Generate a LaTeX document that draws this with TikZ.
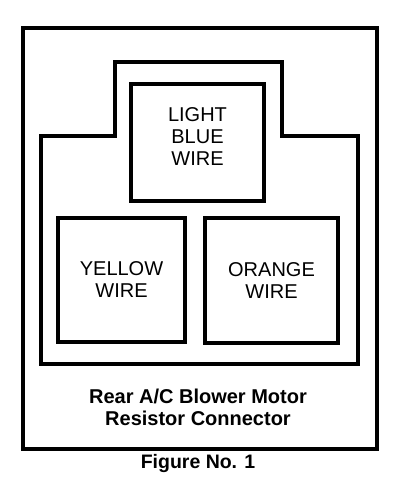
\documentclass[tikz,border=0pt]{standalone}
\usepackage{fontspec}
\setmainfont{Liberation Sans}
\usepackage{tikz}
\usetikzlibrary{positioning,calc}

\tikzset{
  pinbox/.style={draw,line width=4pt,minimum width=#1,inner sep=0pt,align=center,
    font=\fontsize{20}{22}\selectfont},
  caption/.style={align=center,font=\bfseries\fontsize{20}{21.5}\selectfont}
}

\begin{document}
\begin{tikzpicture}[x=1pt,y=-1pt]
                \useasboundingbox (0,0) rectangle (400,496);
                % Outer frame
                \draw[line width=4pt] (23,28) rectangle (377,449);
                
                % Connector housing
                \draw[line width=4pt] (41,364) -- (41,136) -- (115,136) -- (115,62)
                    -- (282,62) -- (282,136) -- (358,136) -- (358,364) -- cycle;
                
                % Terminals
                \node[pinbox=133pt,minimum height=117pt] (lightblue) at (197.5,142.5) {};
                \node (lightbluetxt) at ($(lightblue.center)+(0,-6)$)
                    [align=center,font=\fontsize{20}{22}\selectfont] {LIGHT\\BLUE\\WIRE};
                \node[pinbox=127pt,minimum height=124pt] (yellow) at (121.5,280) {YELLOW\\WIRE};
                \node[pinbox=133pt,minimum height=125pt] (orange) at (271.5,280.5) {ORANGE\\WIRE};
                
                % Labels
                \node[caption] (title) at (198,407.5) {Rear A/C Blower Motor\\Resistor Connector};
                \node[caption,font=\bfseries\fontsize{19.5}{21}\selectfont] (fig) at (198,463) {Figure No. 1};
            \end{tikzpicture}
\end{document}
